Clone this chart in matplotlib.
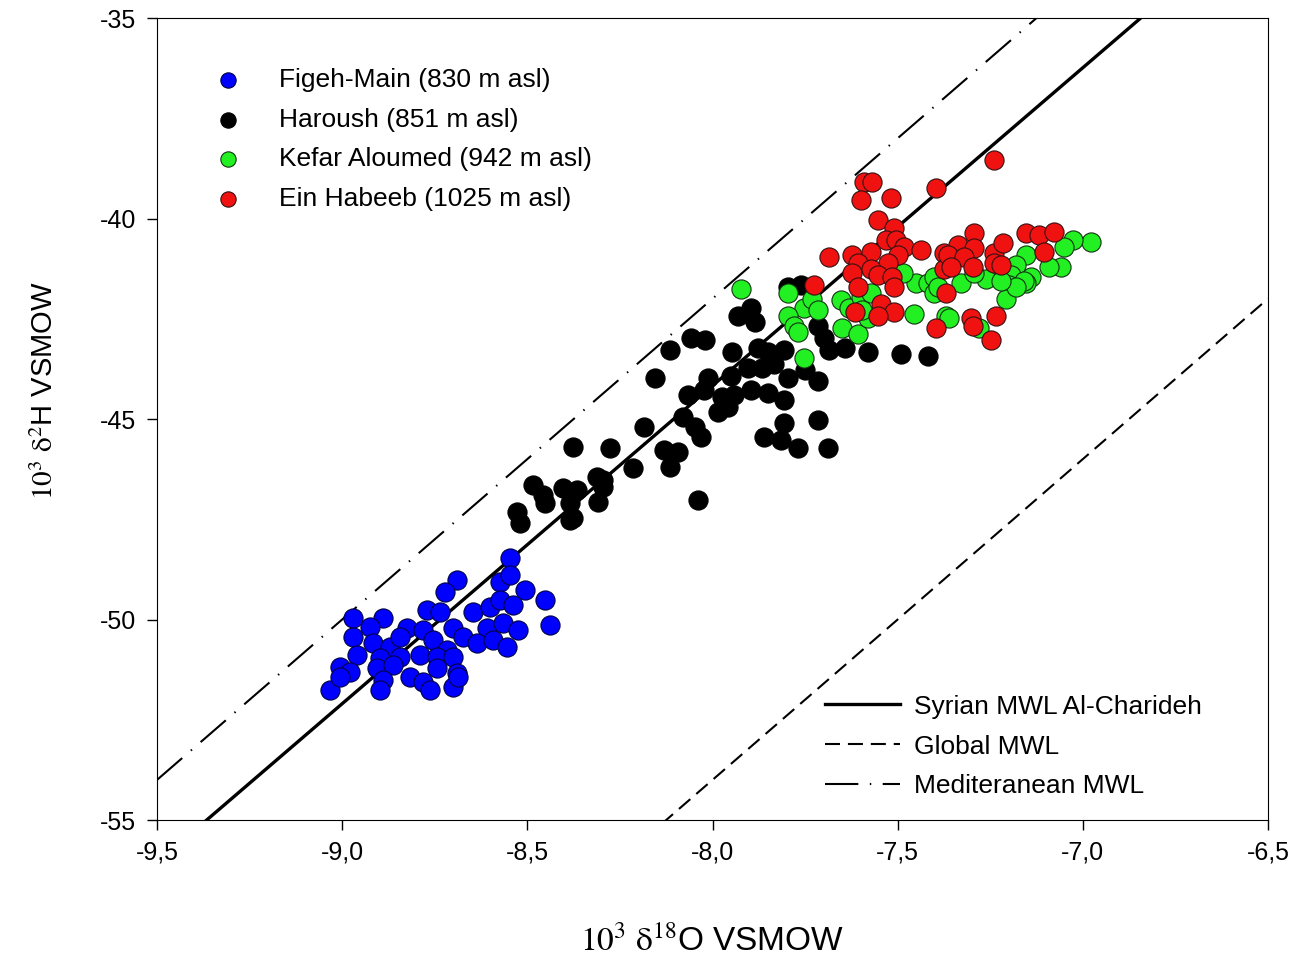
import matplotlib
matplotlib.use("Agg")
import matplotlib.pyplot as plt
import numpy as np

plt.rcParams['font.family'] = ['Liberation Sans', 'DejaVu Sans']
plt.rcParams['mathtext.fontset'] = 'stix'
plt.rcParams['axes.unicode_minus'] = False

# spring data: delta 18O and delta 2H (per mil VSMOW)
figeh_o = [-8.546, -8.689, -8.573, -8.546, -8.505, -8.451, -8.438, -8.722, -8.770, -8.735,
           -8.646, -8.600, -8.573, -8.538, -8.970, -8.889, -8.924, -8.824, -8.781, -8.700,
           -8.673, -8.608, -8.565, -8.524, -8.970, -8.916, -8.870, -8.843, -8.754, -8.716,
           -8.635, -8.592, -8.554, -8.959, -8.897, -8.843, -8.789, -8.743, -8.700, -9.005,
           -8.978, -8.905, -8.862, -8.743, -8.689, -9.032, -9.005, -8.889, -8.816, -8.781,
           -8.897, -8.762, -8.700, -8.686]
figeh_h = [-48.47, -49.02, -49.07, -48.89, -49.26, -49.51, -50.14, -49.31, -49.76, -49.81,
           -49.81, -49.69, -49.51, -49.64, -49.96, -49.96, -50.19, -50.21, -50.26, -50.21,
           -50.44, -50.21, -50.09, -50.26, -50.44, -50.59, -50.69, -50.44, -50.51, -50.76,
           -50.59, -50.51, -50.69, -50.89, -50.96, -50.94, -50.89, -50.94, -50.94, -51.18,
           -51.31, -51.21, -51.13, -51.21, -51.33, -51.76, -51.43, -51.51, -51.43, -51.56,
           -51.76, -51.76, -51.68, -51.43]

haroush_o = [-7.797, -7.762, -7.897, -7.932, -7.884, -8.059, -8.019, -8.114, -8.154, -7.946,
             -7.878, -7.851, -7.808, -7.716, -7.700, -7.686, -7.641, -7.581, -8.011, -7.951,
             -7.905, -7.865, -7.835, -7.797, -7.749, -7.714, -8.065, -8.024, -7.973, -7.943,
             -7.897, -7.851, -7.808, -7.984, -7.957, -8.081, -8.046, -8.032, -8.186, -7.808,
             -7.714, -7.862, -7.816, -7.770, -7.689, -8.132, -8.092, -7.492, -7.419, -8.378,
             -8.276, -8.114, -8.216, -8.311, -8.295, -8.295, -8.484, -8.457, -8.451, -8.405,
             -8.365, -8.384, -8.376, -8.384, -8.308, -8.527, -8.519, -8.038]
haroush_h = [-41.72, -41.67, -42.22, -42.42, -42.59, -42.97, -43.04, -43.29, -43.97, -43.34,
             -43.22, -43.34, -43.29, -42.67, -42.97, -43.29, -43.24, -43.34, -43.97, -43.92,
             -43.74, -43.72, -43.62, -43.97, -43.79, -44.04, -44.40, -44.27, -44.45, -44.40,
             -44.27, -44.35, -44.52, -44.82, -44.69, -44.94, -45.19, -45.44, -45.19, -45.09,
             -45.02, -45.44, -45.52, -45.72, -45.72, -45.77, -45.82, -43.37, -43.42, -45.69,
             -45.72, -46.19, -46.22, -46.44, -46.52, -46.70, -46.64, -46.89, -47.09, -46.72,
             -46.77, -47.09, -47.47, -47.52, -47.07, -47.32, -47.59, -47.02]

kefar_o = [-7.797, -7.754, -7.730, -7.716, -7.795, -7.781, -7.768, -7.754, -7.654, -7.632,
           -7.649, -7.608, -7.600, -7.573, -7.581, -7.457, -7.451, -7.419, -7.403, -7.924,
           -7.486, -7.595, -7.370, -6.978, -7.027, -7.051, -7.059, -7.092, -7.154, -7.181,
           -7.195, -7.141, -7.154, -7.200, -7.208, -7.262, -7.330, -7.403, -7.392, -7.362,
           -7.281, -7.295, -7.159, -7.181, -7.222]
kefar_h = [-41.87, -42.22, -42.00, -42.29, -42.42, -42.67, -42.84, -43.49, -42.04, -42.24,
           -42.72, -42.87, -41.97, -41.87, -42.49, -42.37, -41.62, -41.62, -41.87, -41.75,
           -41.35, -42.29, -42.42, -40.59, -40.54, -40.72, -41.22, -41.22, -40.92, -41.17,
           -41.42, -41.47, -41.60, -41.67, -42.00, -41.50, -41.62, -41.47, -41.72, -42.47,
           -42.72, -41.37, -41.55, -41.72, -41.55]

habeeb_o = [-7.592, -7.568, -7.600, -7.519, -7.397, -7.554, -7.511, -7.532, -7.505, -7.484,
            -7.438, -7.686, -7.622, -7.573, -7.500, -7.527, -7.608, -7.573, -7.622, -7.554,
            -7.514, -7.511, -7.608, -7.727, -7.546, -7.511, -7.614, -7.554, -7.376, -7.376,
            -7.397, -7.241, -7.295, -7.338, -7.295, -7.365, -7.322, -7.357, -7.297, -7.241,
            -7.216, -7.241, -7.222, -7.370, -7.235, -7.303, -7.297, -7.249, -7.154, -7.119,
            -7.078, -7.105]
habeeb_h = [-39.09, -39.09, -39.54, -39.49, -39.24, -40.04, -40.24, -40.54, -40.54, -40.72,
            -40.79, -40.97, -40.92, -40.84, -40.92, -41.10, -41.12, -41.25, -41.37, -41.42,
            -41.47, -41.72, -41.72, -41.65, -42.12, -42.34, -42.34, -42.42, -40.87, -41.25,
            -42.72, -38.54, -40.37, -40.67, -40.74, -40.92, -40.97, -41.22, -41.22, -40.87,
            -40.62, -41.12, -41.17, -41.87, -42.42, -42.49, -42.67, -43.04, -40.37, -40.42,
            -40.34, -40.84]

# meteoric water lines: slope, intercept
syrian_mwl = (7.93, 19.27)
global_mwl = (8.0, 10.0)
med_mwl = (8.0, 22.0)

xticks = [-9.5, -9.0, -8.5, -8.0, -7.5, -7.0, -6.5]
xtick_labels = ['-9,5', '-9,0', '-8,5', '-8,0', '-7,5', '-7,0', '-6,5']
yticks = [-55, -50, -45, -40, -35]

fig = plt.figure(figsize=(12.99, 9.58), dpi=100)
ax = fig.add_axes([157 / 1299, 138 / 958, 1111 / 1299, 802 / 958])

xl = np.array([-9.5, -6.5])
l1, = ax.plot(xl, syrian_mwl[0] * xl + syrian_mwl[1], color='black', lw=2.4,
              label='Syrian MWL Al-Charideh')
l2, = ax.plot(xl, global_mwl[0] * xl + global_mwl[1], color='black', lw=1.5,
              dashes=(7.2, 3.8), label='Global MWL')
l3, = ax.plot(xl, med_mwl[0] * xl + med_mwl[1], color='black', lw=1.5,
              dashes=(16, 5.5, 0.7, 5.5), label='Mediteranean MWL')

ms = 190
s2 = ax.scatter(haroush_o, haroush_h, s=ms, c='black', edgecolors='black', lw=0.8,
                label='Haroush (851 m asl)', zorder=3)
s1 = ax.scatter(figeh_o, figeh_h, s=ms, c='#0000ff', edgecolors='#000044', lw=0.8,
                label='Figeh-Main (830 m asl)', zorder=3)
s3 = ax.scatter(kefar_o, kefar_h, s=ms, c='#22f022', edgecolors='#113311', lw=0.8,
                label='Kefar Aloumed (942 m asl)', zorder=3)
s4 = ax.scatter(habeeb_o, habeeb_h, s=ms, c='#f01111', edgecolors='#331111', lw=0.8,
                label='Ein Habeeb (1025 m asl)', zorder=3)

ax.set_xlim(-9.5, -6.5)
ax.set_ylim(-55, -35)
ax.set_xticks(xticks)
ax.set_xticklabels(xtick_labels)
ax.set_yticks(yticks)
ax.tick_params(direction='out', length=7, width=1, labelsize=18, pad=8)

ax.set_xlabel(r'$\mathrm{10^{3}\ \delta^{18}}$O VSMOW', fontsize=24)
ax.set_ylabel(r'$\mathrm{10^{3}\ \delta^{2}}$H VSMOW', fontsize=21)
ax.xaxis.set_label_coords(0.5, -0.132)
ax.yaxis.set_label_coords(-0.088, 0.535)

leg1 = ax.legend(handles=[s1, s2, s3, s4], loc='upper left',
                 bbox_to_anchor=(0.04, 0.938), frameon=False, fontsize=19,
                 scatterpoints=1, markerscale=0.8, handletextpad=0.95,
                 labelspacing=0.6, borderpad=0, borderaxespad=0)
ax.add_artist(leg1)
ax.legend(handles=[l1, l2, l3], loc='lower left', bbox_to_anchor=(0.601, 0.027),
          frameon=False, fontsize=19, handlelength=2.85, handletextpad=0.55,
          labelspacing=0.6, borderpad=0, borderaxespad=0)

plt.savefig('out.png', dpi=100)
